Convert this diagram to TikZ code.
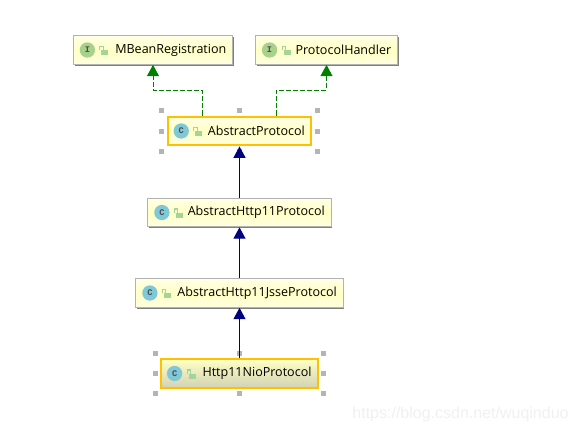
\documentclass[tikz,border=0pt]{standalone}
\usepackage{fontspec}
\setmainfont{Open Sans}
\newfontfamily\iconfont{Liberation Mono}
\newfontfamily\markfont{Liberation Sans}
\usepackage{tikz}
\usetikzlibrary{arrows.meta, positioning, calc, shadows}

\definecolor{boxtop}{HTML}{FFFFE6}
\definecolor{boxmid}{HTML}{FFFFC4}
\definecolor{boxbottom}{HTML}{FFFFE0}
\definecolor{selbottom}{HTML}{D2D2B4}
\definecolor{selborder}{HTML}{FFC000}
\definecolor{ifacegreen}{HTML}{A9D18E}
\definecolor{classblue}{HTML}{7FC8D8}
\definecolor{lockgreen}{HTML}{A3D49B}
\definecolor{handlegray}{HTML}{B4B4B4}

\begin{document}
\begin{tikzpicture}[
  x=0.75pt, y=-0.75pt,
  basebox/.style={top color=boxtop, bottom color=boxbottom, middle color=boxmid,
    minimum height=21.5pt, inner ysep=0pt, inner xsep=4.7pt, text width=#1, align=right, font=\fontsize{9.4}{11}\selectfont},
  umlbox/.style={basebox=#1, draw=black!30, line width=0.75pt,
    drop shadow={shadow xshift=0.9pt, shadow yshift=-0.9pt, opacity=1, fill=black!50}},
  selbox/.style={basebox=#1, draw=selborder, line width=1.7pt},
  icon/.style={circle, fill=#1, minimum size=11.5pt, inner sep=0pt, text=black!70, font=\iconfont\bfseries\fontsize{6.5}{7}\selectfont},
  impl/.style={-{Triangle[width=9pt,length=8.5pt]}, draw=green!50!black, dash pattern=on 3.8pt off 1.5pt, line width=0.75pt},
  ext/.style={-{Triangle[width=9pt,length=8.5pt]}, draw=blue!50!black, line width=0.8pt}
]
\useasboundingbox (0,0) rectangle (577,432);

\node[umlbox=110pt] (mbean) at (153,50) {MBeanRegistration};
\node[umlbox=97pt] (handler) at (326.5,50) {ProtocolHandler};
\node[selbox=98pt] (abstract) at (239.5,131) {AbstractProtocol};
\node[umlbox=128pt] (http) at (239.5,212.5) {AbstractHttp11Protocol};
\node[umlbox=146pt] (jsse) at (239.5,293) {AbstractHttp11JsseProtocol};
\node[selbox=108pt, top color=boxmid, middle color=boxmid!60!selbottom, bottom color=selbottom] (nio) at (239.5,373.5) {Http11NioProtocol};

\node[font=\markfont\fontsize{12}{14}\selectfont, text=black!6, inner sep=0pt] (mark) at (460.5,414) {https://blog.csdn.net/wuqinduo};

% icons and lock
\foreach \name/\col/\letter in {mbean/ifacegreen/I, handler/ifacegreen/I, abstract/classblue/C, http/classblue/C, jsse/classblue/C, nio/classblue/C} {
  \node[icon=\col] (\name icon) at ([shift={(14.5,0)}]\name.west) {\letter};
  \fill[lockgreen] ([shift={(28.5,0)}]\name.west) rectangle ++(7,5);
  \draw[lockgreen, line width=0.8pt] ([shift={(27,0)}]\name.west) -- ++(0,-3.5) -- ++(3.5,0) -- ++(0,3.5);
}

% selection handles
\foreach \name in {abstract, nio} {
  \foreach \a/\dx/\dy in {north west/-5/-5, north/0/-5, north east/5/-5, west/-5/0, east/5/0, south west/-5/5, south/0/5, south east/5/5} {
    \fill[handlegray] ([shift={(\dx-2.5,\dy-2.5)}]\name.\a) rectangle ++(5,5);
  }
}

\coordinate (bend) at (0,90);
\draw[impl] ([xshift=-28pt]abstract.north) |- (mbean.south |- bend) -- (mbean.south);
\draw[impl] ([xshift=27.4pt]abstract.north) |- (handler.south |- bend) -- (handler.south);
\draw[ext] (http) -- (abstract);
\draw[ext] (jsse) -- (http);
\draw[ext] (nio) -- (jsse);

\end{tikzpicture}
\end{document}
